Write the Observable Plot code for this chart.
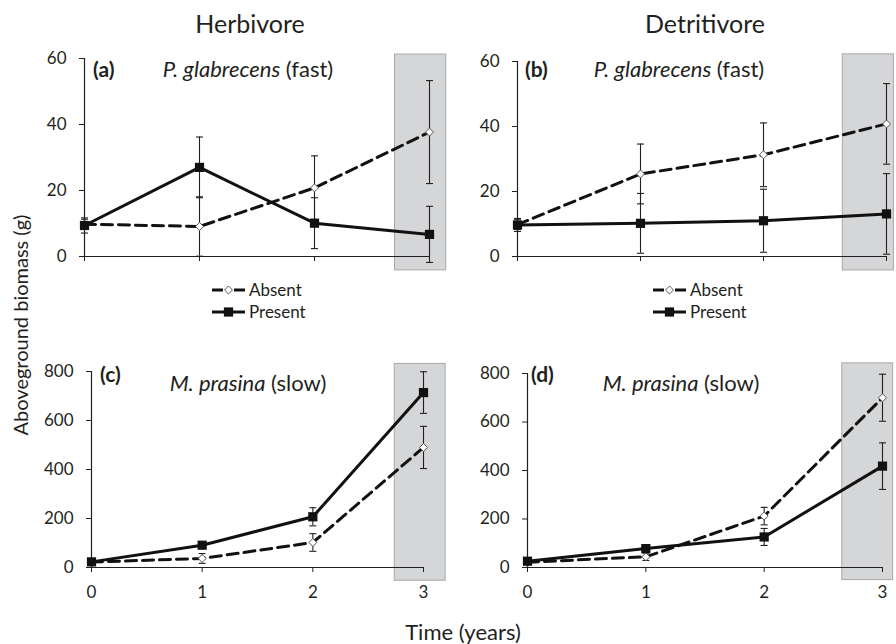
<!DOCTYPE html>
<html><head><meta charset="utf-8">
<script src="https://cdn.jsdelivr.net/npm/d3@7"></script>
<script src="https://cdn.jsdelivr.net/npm/@observablehq/plot@0.6"></script>
<style>
body{margin:0;background:#fff;}
#chart{position:relative;width:896px;height:644px;overflow:hidden;background:#fff}
#chart > svg, #chart > figure{position:absolute;margin:0}
</style></head><body><div id="chart"></div>
<script>
const FONT = "Lato, 'Open Sans', sans-serif";
const INK = "#231f20";

// Time points (years)
const years = [0, 1, 2, 3];

// Panel (a) Herbivore, P. glabrecens (fast)
const herbFastAbsent = [9.8, 9.1, 20.8, 37.7];
const herbFastAbsentErr = [1.5, 9.0, 9.7, 15.6];
const herbFastPresent = [9.4, 27.0, 10.1, 6.7];
const herbFastPresentErr = [2.3, 9.2, 7.7, 8.5];

// Panel (b) Detritivore, P. glabrecens (fast)
const detFastAbsent = [9.8, 25.4, 31.3, 40.8];
const detFastAbsentErr = [1.5, 9.2, 9.8, 12.4];
const detFastPresent = [9.7, 10.2, 11.0, 13.1];
const detFastPresentErr = [2.0, 9.2, 9.7, 12.4];

// Panel (c) Herbivore, M. prasina (slow)
const herbSlowAbsent = [22, 37, 102, 490];
const herbSlowAbsentErr = [5, 20, 36, 86];
const herbSlowPresent = [23, 91, 207, 714];
const herbSlowPresentErr = [5, 10, 37, 85];

// Panel (d) Detritivore, M. prasina (slow)
const detSlowAbsent = [22, 44, 212, 700];
const detSlowAbsentErr = [5, 15, 36, 97];
const detSlowPresent = [26, 78, 126, 418];
const detSlowPresentErr = [5, 10, 35, 96];

const fastTicks = [0, 20, 40, 60];
const slowTicks = [0, 200, 400, 600, 800];

// highlighted final year (grey box), in data units
const bandA = {x1: 2.70, x2: 3.145, y1: -4.2, y2: 61.2};
const bandB = {x1: 2.645, x2: 3.06, y1: -4.3, y2: 62.2};
const bandC = {x1: 2.74, x2: 3.20, y1: -54, y2: 831};
const bandD = {x1: 2.66, x2: 3.09, y1: -52, y2: 842};

const capSymbol = {draw(ctx) { ctx.moveTo(-3.5, 0); ctx.lineTo(3.5, 0); }};

function panel(cfg) {
  const data = years.map((t, i) => ({t, a: cfg.absent[i], ae: cfg.absentErr[i], p: cfg.present[i], pe: cfg.presentErr[i]}));
  const caps = data.flatMap(d => [
    {t: d.t, v: d.a - d.ae}, {t: d.t, v: d.a + d.ae},
    {t: d.t, v: d.p - d.pe}, {t: d.t, v: d.p + d.pe}
  ]);
  const ymax = cfg.ticks[cfg.ticks.length - 1];
  const svg = Plot.plot({
    width: 448, height: cfg.height,
    marginLeft: cfg.m[0], marginRight: cfg.m[1], marginTop: cfg.m[2], marginBottom: cfg.m[3],
    x: {domain: [0, 3], label: null},
    y: {domain: [0, ymax], label: null},
    style: {fontFamily: FONT, fontSize: "17px", color: INK, background: "transparent", overflow: "visible"},
    marks: [
      Plot.rect([cfg.band], {x1: "x1", x2: "x2", y1: "y1", y2: "y2", fill: "#d5d6d8", stroke: "#a8a8aa", strokeWidth: 1}),
      Plot.ruleX([0], {y1: 0, y2: ymax, stroke: INK, strokeWidth: 1.2}),
      Plot.ruleY([0], {x1: 0, x2: 3, stroke: INK, strokeWidth: 1.2}),
      Plot.axisY({ticks: cfg.ticks, tickSize: 5, tickPadding: 13, stroke: INK}),
      Plot.axisX({ticks: years, tickSize: 5, tickPadding: 13, stroke: INK, tickFormat: cfg.showX ? (d => d) : (() => "")}),
      Plot.ruleX(data, {x: "t", y1: d => d.a - d.ae, y2: d => d.a + d.ae, stroke: INK, strokeWidth: 1.1}),
      Plot.ruleX(data, {x: "t", y1: d => d.p - d.pe, y2: d => d.p + d.pe, stroke: INK, strokeWidth: 1.1}),
      Plot.dot(caps, {x: "t", y: "v", symbol: capSymbol, stroke: INK, fill: "none", strokeWidth: 1.1}),
      Plot.line(data, {x: "t", y: "a", stroke: "#111", strokeWidth: 3, strokeDasharray: "11,6"}),
      Plot.line(data, {x: "t", y: "p", stroke: "#111", strokeWidth: 3}),
      Plot.dot(data, {x: "t", y: "a", symbol: "diamond2", r: 3.6, fill: "white", stroke: "#555", strokeWidth: 1}),
      Plot.dot(data, {x: "t", y: "p", symbol: "square", r: 5.2, fill: "#111", stroke: "none"})
    ]
  });
  svg.style.left = cfg.left + "px";
  svg.style.top = cfg.top + "px";
  document.getElementById("chart").appendChild(svg);
}

panel({left: 0, top: 40, height: 240, m: [84, 19, 18, 24], ticks: fastTicks, band: bandA, showX: false,
  absent: herbFastAbsent, absentErr: herbFastAbsentErr, present: herbFastPresent, presentErr: herbFastPresentErr});
panel({left: 448, top: 40, height: 240, m: [69, 10, 21, 24], ticks: fastTicks, band: bandB, showX: false,
  absent: detFastAbsent, absentErr: detFastAbsentErr, present: detFastPresent, presentErr: detFastPresentErr});
panel({left: 0, top: 340, height: 290, m: [91, 25, 31, 63], ticks: slowTicks, band: bandC, showX: true,
  absent: herbSlowAbsent, absentErr: herbSlowAbsentErr, present: herbSlowPresent, presentErr: herbSlowPresentErr});
panel({left: 448, top: 340, height: 290, m: [79, 14, 33, 63], ticks: slowTicks, band: bandD, showX: true,
  absent: detSlowAbsent, absentErr: detSlowAbsentErr, present: detSlowPresent, presentErr: detSlowPresentErr});

// Overlay: titles, panel labels, legends
const columnTitles = ["Herbivore", "Detritivore"];
const panelLetters = ["(a)", "(b)", "(c)", "(d)"];
const species = [["P. glabrecens", " (fast)"], ["P. glabrecens", " (fast)"], ["M. prasina", " (slow)"], ["M. prasina", " (slow)"]];
const legendLabels = ["Absent", "Present"];

const ov = d3.select("#chart").append("svg")
  .attr("width", 896).attr("height", 644)
  .style("left", "0px").style("top", "0px").style("pointer-events", "none")
  .attr("font-family", FONT).attr("fill", INK);

ov.append("text").attr("x", 250).attr("y", 33).attr("text-anchor", "middle").attr("font-size", 25).text(columnTitles[0]);
ov.append("text").attr("x", 705).attr("y", 33).attr("text-anchor", "middle").attr("font-size", 25).text(columnTitles[1]);
ov.append("text").attr("transform", "translate(28,325) rotate(-90)").attr("text-anchor", "middle").attr("font-size", 20).text("Aboveground biomass (g)");
ov.append("text").attr("x", 463).attr("y", 640).attr("text-anchor", "middle").attr("font-size", 22).text("Time (years)");

const letterPos = [[93, 77], [525, 77], [100, 382], [531, 382]];
const speciesPos = [[248, 77], [679, 77], [248, 391], [681, 391]];
panelLetters.forEach((l, i) => {
  ov.append("text").attr("x", letterPos[i][0]).attr("y", letterPos[i][1]).attr("font-size", 21).attr("font-weight", "bold").text(l);
  const t = ov.append("text").attr("x", speciesPos[i][0]).attr("y", speciesPos[i][1]).attr("text-anchor", "middle").attr("font-size", 22);
  t.append("tspan").attr("font-style", "italic").text(species[i][0]);
  t.append("tspan").text(species[i][1]);
});

function legend(x0) {
  const g = ov.append("g");
  const yA = 290, yP = 312;
  // Absent
  g.append("line").attr("x1", x0).attr("x2", x0 + 11).attr("y1", yA).attr("y2", yA).attr("stroke", "#111").attr("stroke-width", 3);
  g.append("line").attr("x1", x0 + 22).attr("x2", x0 + 33).attr("y1", yA).attr("y2", yA).attr("stroke", "#111").attr("stroke-width", 3);
  g.append("path").attr("d", d3.symbol(d3.symbolDiamond2, 3.6 * 3.6 * Math.PI)()).attr("transform", `translate(${x0 + 16.5},${yA})`).attr("fill", "white").attr("stroke", "#555");
  g.append("text").attr("x", x0 + 37).attr("y", yA + 6).attr("font-size", 17).text(legendLabels[0]);
  // Present
  g.append("line").attr("x1", x0).attr("x2", x0 + 33).attr("y1", yP).attr("y2", yP).attr("stroke", "#111").attr("stroke-width", 3);
  g.append("path").attr("d", d3.symbol(d3.symbolSquare, 5.2 * 5.2 * Math.PI)()).attr("transform", `translate(${x0 + 16.5},${yP})`).attr("fill", "#111");
  g.append("text").attr("x", x0 + 37).attr("y", yP + 6).attr("font-size", 17).text(legendLabels[1]);
}
legend(212);
legend(653);
</script></body></html>
